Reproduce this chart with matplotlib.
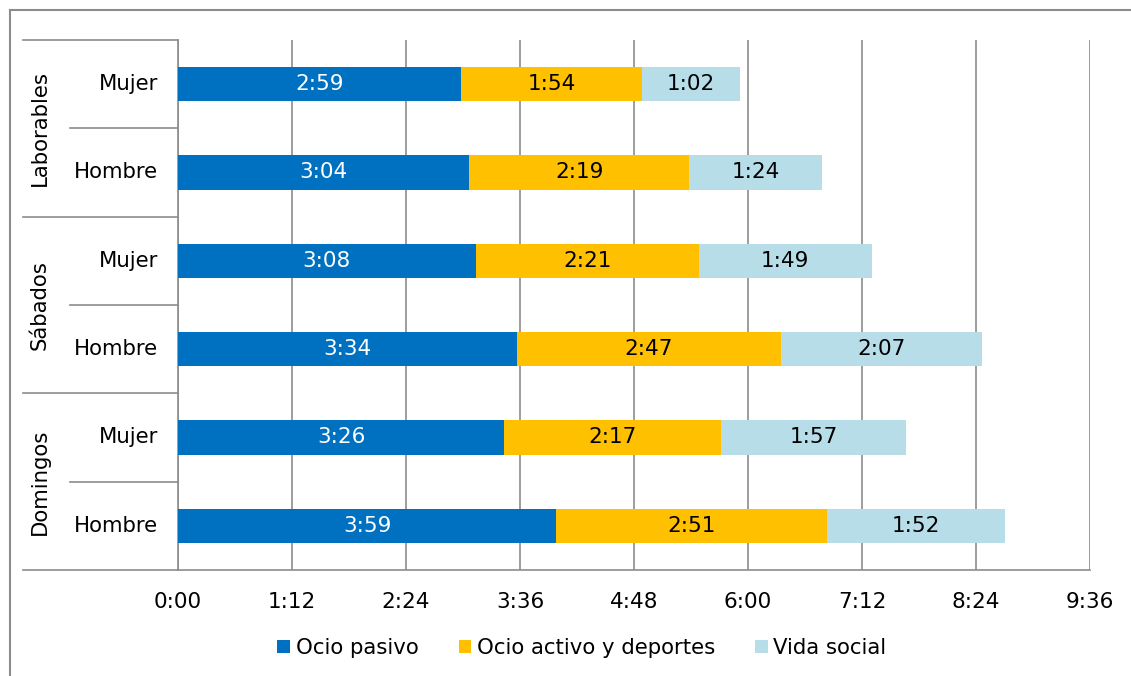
import matplotlib
matplotlib.use("Agg")
import matplotlib.pyplot as plt
from matplotlib.lines import Line2D
import numpy as np

plt.rcParams['font.family'] = ['DejaVu Sans']

groups = ['Laborables', 'Sábados', 'Domingos']
sexes = ['Mujer', 'Hombre']
series = ['Ocio pasivo', 'Ocio activo y deportes', 'Vida social']
# minutes, order: Lab Mujer, Lab Hombre, Sab Mujer, Sab Hombre, Dom Mujer, Dom Hombre
ocio_pasivo = [179, 184, 188, 214, 206, 239]
ocio_activo = [114, 139, 141, 167, 137, 171]
vida_social = [62, 84, 109, 127, 117, 112]
colors = ['#0070C0', '#FFC000', '#B7DEE8']
text_colors = ['white', 'black', 'black']
xticks = list(range(0, 577, 72))


def fmt(m):
    return f'{m // 60}:{m % 60:02d}'


fig = plt.figure(figsize=(11.31, 6.76), dpi=100)
W, H = 1131, 676
ax = fig.add_axes([178 / W, 1 - 570 / H, (1090 - 178) / W, (570 - 40) / H])

n = len(ocio_pasivo)
ypos = np.arange(n)
left = np.zeros(n)
for vals, c, tc, name in zip([ocio_pasivo, ocio_activo, vida_social], colors, text_colors, series):
    vals = np.array(vals)
    ax.barh(ypos, vals, left=left, height=0.385, color=c, label=name, zorder=3)
    for y, l, v in zip(ypos, left, vals):
        ax.text(l + v / 2, y, fmt(int(v)), ha='center', va='center', color=tc, fontsize=15.5, zorder=4)
    left = left + vals

ax.set_ylim(n - 0.5, -0.5)
ax.set_xlim(0, 576)
ax.set_xticks(xticks)
ax.set_xticklabels([fmt(t) for t in xticks], fontsize=15.5)
ax.tick_params(axis='x', length=0, pad=16)
ax.set_yticks([])
ax.grid(axis='x', color='#8c8c8c', linewidth=1.2, zorder=0)
for s in ['top', 'right']:
    ax.spines[s].set_visible(False)
for s in ['left', 'bottom']:
    ax.spines[s].set_color('#8c8c8c')
    ax.spines[s].set_linewidth(1.2)

# category labels and separators
trans = ax.get_yaxis_transform()
for i in range(n):
    ax.text(-20 / 912, i, sexes[i % 2], transform=trans, ha='right', va='center', fontsize=15.3)
for g, name in enumerate(groups):
    ax.text(-(178 - 40) / 912, 2 * g + 0.5, name, transform=trans, ha='center', va='center',
            rotation=90, fontsize=15.3)
for k in range(n + 1):
    y = k - 0.5
    x0 = -(178 - 23) / 912 if k % 2 == 0 else -(178 - 70) / 912
    ax.add_line(Line2D([x0, 0], [y, y], transform=trans, color='#8c8c8c', linewidth=1.2, clip_on=False))

fig.legend(loc='center', bbox_to_anchor=(582 / W, 1 - 648 / H), ncol=3, frameon=False,
           fontsize=15.3, handlelength=0.6, handleheight=0.6, handletextpad=0.25, columnspacing=1.9)

# outer frame
fig.add_artist(Line2D([10 / W, 1.0], [1 - 10 / H, 1 - 10 / H], transform=fig.transFigure, color='#8c8c8c', linewidth=1.5))
fig.add_artist(Line2D([10 / W, 10 / W], [0, 1 - 10 / H], transform=fig.transFigure, color='#8c8c8c', linewidth=1.5))

fig.savefig('out.png', dpi=100)
